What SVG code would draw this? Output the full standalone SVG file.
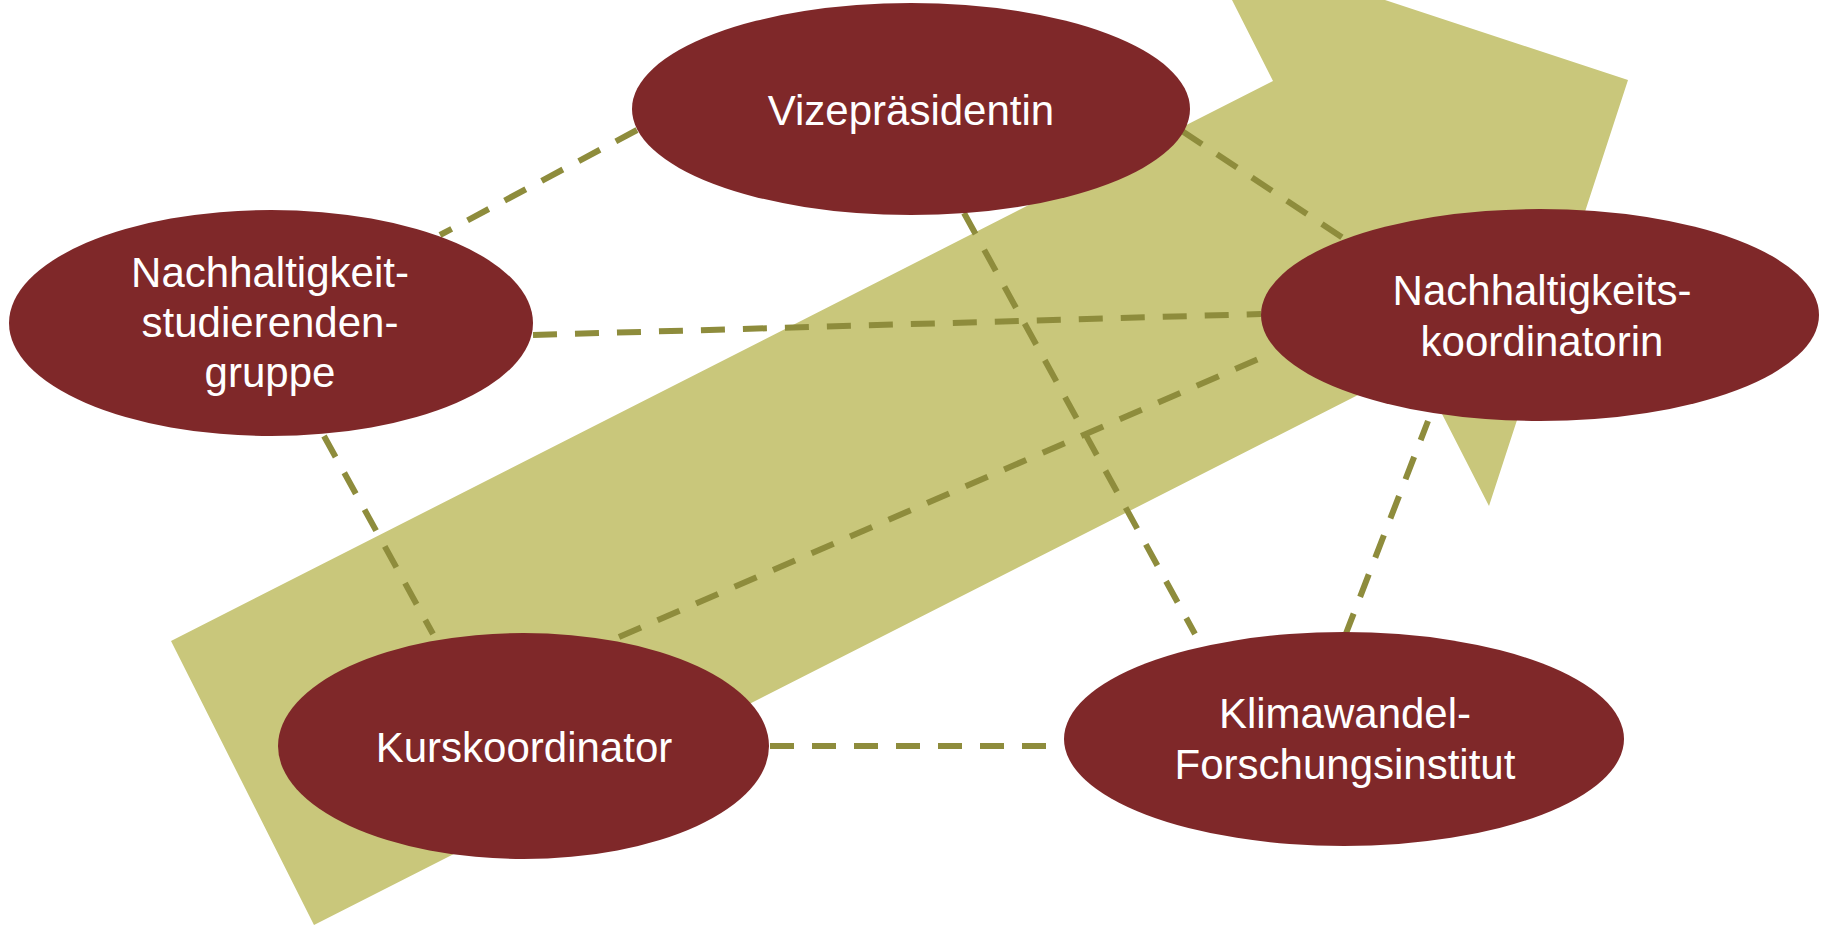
<svg xmlns="http://www.w3.org/2000/svg" width="1825" height="925" viewBox="0 0 1825 925">
<style>
.node{fill:#7F2829}
.lbl{font-family:"Liberation Sans",Arial,sans-serif;font-size:42px;fill:#FFFFFF;text-anchor:middle}
.conn{stroke:#8E8C3C;stroke-width:6;stroke-dasharray:24 18;fill:none}
</style>
<rect width="1825" height="925" fill="#FFFFFF"/>
<polygon id="bigarrow" points="171,641 1273,81 1232,0 1385,0 1628,80 1489,506 1417,365 314,925" fill="#C9C77B"/>
<g id="connectors">
<line class="conn" x1="637" y1="130" x2="440" y2="235"/>
<line class="conn" x1="1182" y1="131" x2="1343" y2="238"/>
<line class="conn" x1="964" y1="213" x2="1195" y2="634"/>
<line class="conn" x1="533" y1="335" x2="1261" y2="314"/>
<line class="conn" x1="324" y1="436" x2="433" y2="634"/>
<line class="conn" x1="619" y1="637" x2="1263" y2="357"/>
<line class="conn" x1="770" y1="746" x2="1064" y2="746"/>
<line class="conn" x1="1345" y1="636" x2="1428" y2="421"/>
</g>
<g id="vizepraesidentin">
<ellipse class="node" cx="911" cy="109" rx="279" ry="106"/>
<text class="lbl" x="911" y="125">Vizepräsidentin</text>
</g>
<g id="studierendengruppe">
<ellipse class="node" cx="271" cy="323" rx="262" ry="113"/>
<text class="lbl" x="270" y="287">Nachhaltigkeit-</text>
<text class="lbl" x="270" y="337">studierenden-</text>
<text class="lbl" x="270" y="387">gruppe</text>
</g>
<g id="nachhaltigkeitskoordinatorin">
<ellipse class="node" cx="1540" cy="315" rx="279" ry="106"/>
<text class="lbl" x="1542" y="305">Nachhaltigkeits-</text>
<text class="lbl" x="1542" y="356">koordinatorin</text>
</g>
<g id="kurskoordinator">
<ellipse class="node" cx="523.5" cy="746" rx="245.5" ry="113"/>
<text class="lbl" x="524" y="762">Kurskoordinator</text>
</g>
<g id="klimawandel">
<ellipse class="node" cx="1344" cy="739" rx="280" ry="107"/>
<text class="lbl" x="1345" y="728">Klimawandel-</text>
<text class="lbl" x="1345" y="779">Forschungsinstitut</text>
</g>
</svg>
